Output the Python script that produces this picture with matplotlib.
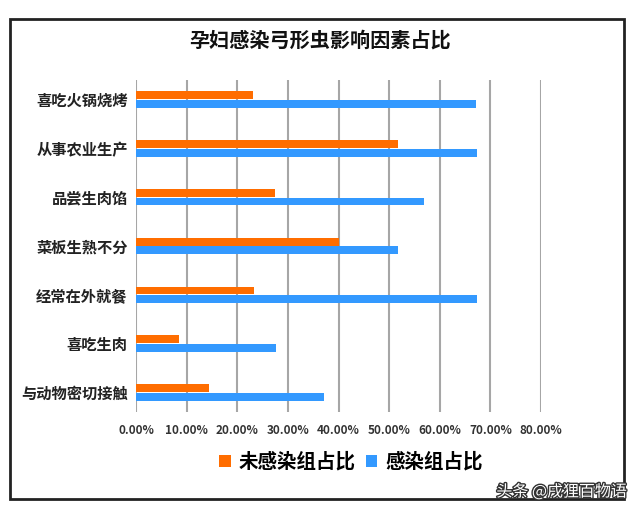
import matplotlib.pyplot as plt
import matplotlib.patheffects as pe
from matplotlib.patches import Rectangle
import numpy as np

plt.rcParams['font.family'] = ['Noto Sans CJK SC', 'DejaVu Sans']

# categories listed top to bottom as in the chart
categories = ['喜吃火锅烧烤', '从事农业生产', '品尝生肉馅', '菜板生熟不分',
              '经常在外就餐', '喜吃生肉', '与动物密切接触']
uninfected = [0.232, 0.518, 0.274, 0.400, 0.234, 0.085, 0.144]
infected = [0.671, 0.673, 0.569, 0.518, 0.673, 0.276, 0.372]
xticks = [0.0, 0.1, 0.2, 0.3, 0.4, 0.5, 0.6, 0.7, 0.8]

orange = '#FF6D00'
blue = '#3399FF'

fig = plt.figure(figsize=(6.4, 5.15), dpi=100)
ax = fig.add_axes([136 / 640, 1 - 412 / 515, 405 / 640, 332 / 515])

y = np.arange(len(categories))[::-1]
h = 0.16
ax.barh(y + h / 2 + 0.01, uninfected, height=h, color=orange, label='未感染组占比', zorder=3)
ax.barh(y - h / 2 - 0.01, infected, height=h, color=blue, label='感染组占比', zorder=3)

ax.set_xlim(0, 0.8)
ax.set_ylim(-0.4, len(categories) - 0.6)
ax.set_xticks(xticks)
ax.set_xticklabels([f'{v * 100:.2f}%' for v in xticks], fontsize=8.5, fontweight='bold',
                   color='#333333')
ax.set_yticks(y)
ax.set_yticklabels(categories, fontsize=11, fontweight='bold', color='#222222')
ax.tick_params(length=0, pad=6)
ax.tick_params(axis='x', pad=9)
ax.xaxis.grid(True, color='#a6a6a6', linewidth=1.5, zorder=0)
for s in ax.spines.values():
    s.set_visible(False)

fig.text(0.5, 1 - 40 / 515, '孕妇感染弓形虫影响因素占比', ha='center', va='center',
         fontsize=14.5, fontweight='bold', color='#111111')

handles, labels = ax.get_legend_handles_labels()
fig.legend(handles, labels, loc='center', bbox_to_anchor=(351 / 640, 1 - 462 / 515),
           ncol=2, frameon=False, prop={'size': 14, 'weight': 'bold'},
           handlelength=0.6, handleheight=0.6, handletextpad=0.4, columnspacing=0.5)

# outer frame
fig.patches.append(Rectangle((10 / 640, 1 - 499 / 515), 614 / 640, 480 / 515,
                             transform=fig.transFigure, fill=False,
                             edgecolor='#222222', linewidth=2))

fig.text(627 / 640, 1 - 492 / 515, '头条 @戌狸百物语', ha='right', va='center',
         fontsize=11.5, color='white',
         path_effects=[pe.withStroke(linewidth=2, foreground='#333333')])

fig.savefig('out.png', dpi=100)
